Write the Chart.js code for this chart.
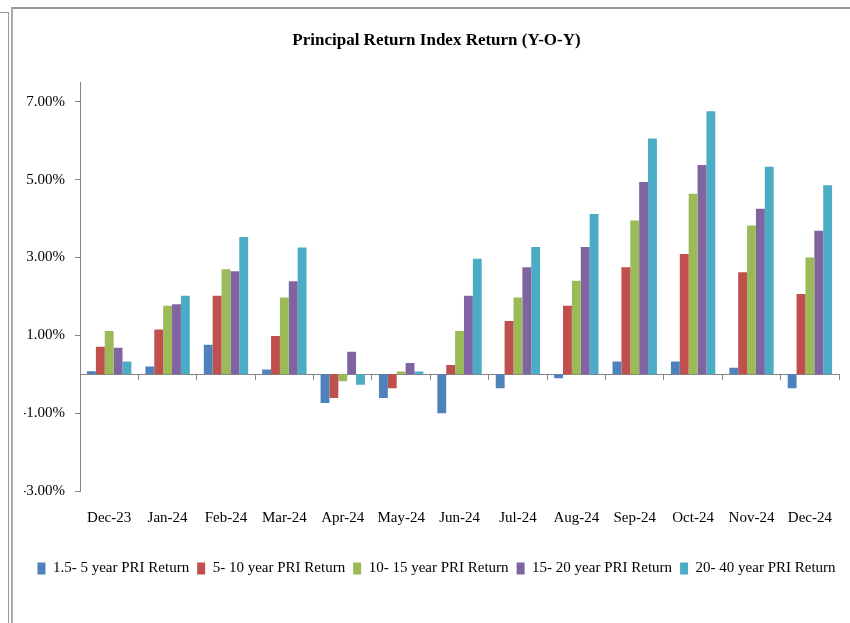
<!DOCTYPE html>
<html>
<head>
<meta charset="utf-8">
<script src="https://cdn.jsdelivr.net/npm/chart.js@4.4.1/dist/chart.umd.min.js"></script>
<style>
  html, body { margin: 0; padding: 0; background: #fff; overflow: hidden; }
  #wrap { position: relative; width: 850px; height: 623px; }
  #frameA { position: absolute; left: -1px; top: 12px; width: 9px; height: 700px;
            border-top: 1px solid #999; border-right: 1px solid #999; }
  #frameB { position: absolute; left: 11px; top: 7px; width: 900px; height: 700px;
            border-left: 2px solid #aaa; border-top: 2px solid #999; }
  canvas { position: absolute; left: 0; top: 0; }
</style>
</head>
<body>
<div id="wrap">
  <div id="frameA"></div>
  <div id="frameB"></div>
  <canvas id="priChart" width="850" height="623"></canvas>
</div>
<script>
// months on the x axis
const months = ["Dec-23", "Jan-24", "Feb-24", "Mar-24", "Apr-24", "May-24", "Jun-24",
                "Jul-24", "Aug-24", "Sep-24", "Oct-24", "Nov-24", "Dec-24"];

// Y-O-Y return, in percent
const pri1_5to5   = [0.08, 0.20, 0.76, 0.12, -0.74, -0.61, -1.00, -0.36, -0.10, 0.33, 0.33, 0.17, -0.36];
const pri5to10    = [0.71, 1.15, 2.02, 0.98, -0.61, -0.36, 0.24, 1.37, 1.76, 2.75, 3.09, 2.62, 2.06];
const pri10to15   = [1.11, 1.76, 2.70, 1.97, -0.18, 0.07, 1.11, 1.97, 2.40, 3.95, 4.64, 3.82, 3.00];
const pri15to20   = [0.68, 1.80, 2.65, 2.39, 0.58, 0.29, 2.02, 2.75, 3.27, 4.94, 5.38, 4.25, 3.69];
const pri20to40   = [0.33, 2.02, 3.53, 3.26, -0.27, 0.07, 2.97, 3.27, 4.12, 6.06, 6.76, 5.33, 4.86];

// y axis tick labels
const yTickValues = [-3, -1, 1, 3, 5, 7];

Chart.defaults.font.family = "'Liberation Serif', 'Times New Roman', serif";
Chart.defaults.color = '#000';

const axisGrey = '#868686';

const config1 = {
    type: 'bar',
    data: {
        labels: months,
        datasets: [{
            label: "1.5- 5 year PRI Return",
            data: pri1_5to5,
            backgroundColor: '#4F81BD'
        }, {
            label: "5- 10 year PRI Return",
            data: pri5to10,
            backgroundColor: '#C0504D'
        }, {
            label: "10- 15 year PRI Return",
            data: pri10to15,
            backgroundColor: '#9BBB59'
        }, {
            label: "15- 20 year PRI Return",
            data: pri15to20,
            backgroundColor: '#8064A2'
        }, {
            label: "20- 40 year PRI Return",
            data: pri20to40,
            backgroundColor: '#4BACC6'
        }]
    },
    options: {
        responsive: false,
        animation: false,
        categoryPercentage: 0.76,
        barPercentage: 1.0,
        layout: {
            padding: { left: 24, right: 1, top: 0, bottom: 37 }
        },
        scales: {
            // zero line with the little category ticks
            x: {
                position: { y: 0 },
                grid: {
                    offset: true,
                    drawOnChartArea: false,
                    drawTicks: true,
                    tickLength: 5,
                    tickColor: axisGrey
                },
                border: { display: true, color: axisGrey, width: 1 },
                ticks: { display: false }
            },
            // month labels at the bottom
            x2: {
                type: 'category',
                position: 'bottom',
                grid: { display: false, drawTicks: false },
                border: { display: false },
                ticks: { padding: 18, font: { size: 15 }, maxRotation: 0, autoSkip: false },
                afterFit: (scale) => { scale.height = 62; }
            },
            y: {
                min: -3,
                max: 7.5,
                afterBuildTicks: (scale) => {
                    scale.ticks = yTickValues.map(v => ({ value: v }));
                },
                afterFit: (scale) => { scale.width = 56; },
                grid: {
                    drawOnChartArea: false,
                    drawTicks: true,
                    tickLength: 5,
                    tickColor: axisGrey
                },
                border: { display: true, color: axisGrey, width: 1 },
                ticks: {
                    padding: 10,
                    font: { size: 15 },
                    callback: (v) => v.toFixed(2) + '%'
                }
            }
        },
        plugins: {
            title: {
                display: true,
                text: 'Principal Return Index Return (Y-O-Y)',
                color: '#000',
                font: { size: 17, weight: 'bold' },
                padding: { top: 30, bottom: 32 }
            },
            legend: {
                position: 'bottom',
                labels: {
                    boxWidth: 8,
                    boxHeight: 12,
                    padding: 8,
                    font: { size: 15 },
                    color: '#000'
                }
            },
            tooltip: { enabled: false }
        }
    }
};

const graphChart = new Chart(
    document.getElementById('priChart'),
    config1
);
</script>
</body>
</html>
